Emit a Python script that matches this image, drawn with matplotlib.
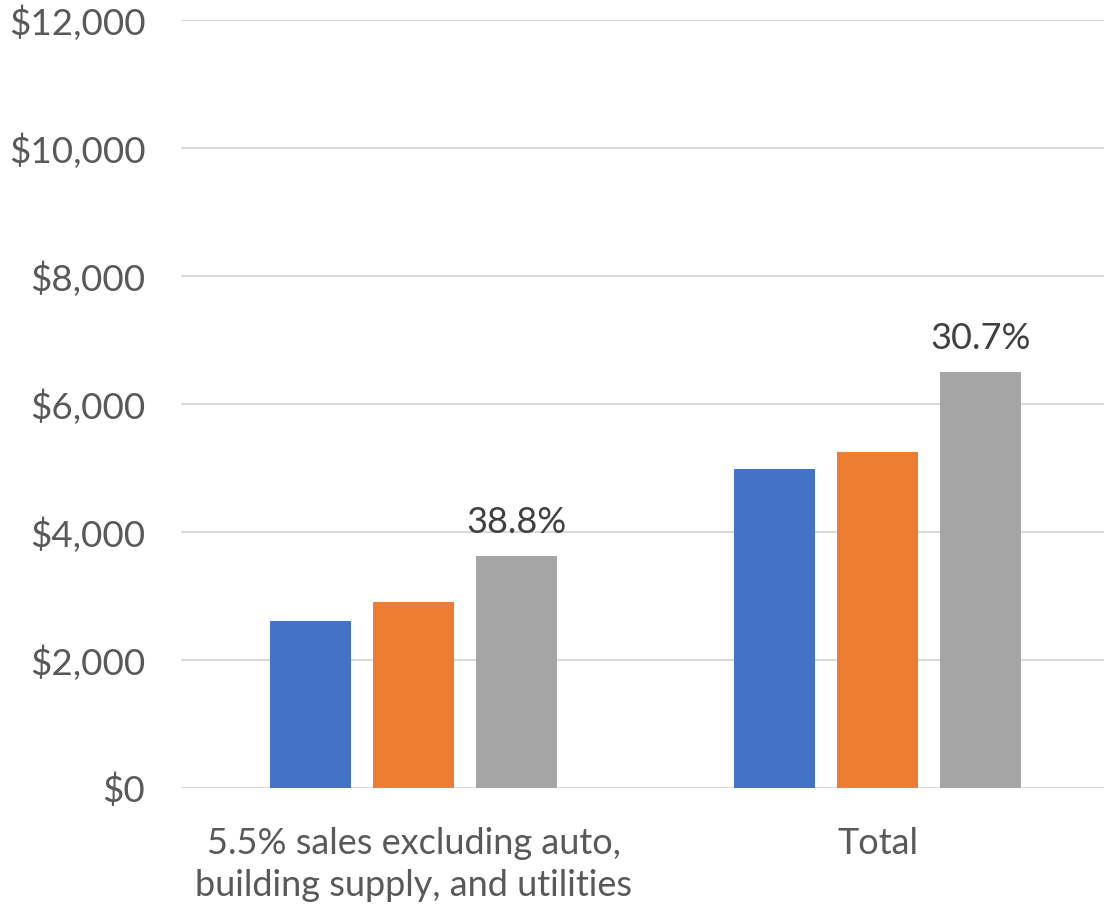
import numpy as np
import matplotlib.pyplot as plt
from matplotlib.ticker import FuncFormatter

# values
categories = ["5.5% sales excluding auto,\nbuilding supply, and utilities", "Total"]
series_a = [2610, 4985]
series_b = [2900, 5250]
series_c = [3625, 6505]
pct_labels = ["38.8%", "30.7%"]

colors = ["#4472C4", "#ED7D31", "#A5A5A5"]
plt.rcParams['font.family'] = ['Lato', 'DejaVu Sans']

fig = plt.figure(figsize=(11.04, 9.07), dpi=100)
ax = fig.add_axes([0.1644, 0.1312, 0.8406, 0.8466])

x = np.arange(len(categories))
w = 0.1746
step = 0.222
for i, (vals, c) in enumerate(zip([series_a, series_b, series_c], colors)):
    ax.bar(x + (i - 1) * step, vals, width=w, color=c, zorder=3)

for xi, v, lab in zip(x, series_c, pct_labels):
    ax.annotate(lab, (xi + step, v), xytext=(0, 12), textcoords="offset points",
                ha="center", va="bottom", fontsize=26, color="#404040")

ax.set_xlim(-0.5, 1.5)
ax.set_ylim(0, 12000)
ax.set_yticks(np.arange(0, 12001, 2000))
ax.yaxis.set_major_formatter(FuncFormatter(lambda v, p: "${:,.0f}".format(v)))
ax.set_xticks(x)
ax.set_xticklabels(categories, linespacing=1.35)
ax.grid(axis="y", color="#D9D9D9", linewidth=1.5, zorder=0)
for s in ax.spines.values():
    s.set_visible(False)
ax.tick_params(axis="y", length=0, pad=26, labelsize=26.5, labelcolor="#595959")
ax.tick_params(axis="x", length=0, pad=28, labelsize=26, labelcolor="#595959")

fig.savefig("out.png", dpi=100)
